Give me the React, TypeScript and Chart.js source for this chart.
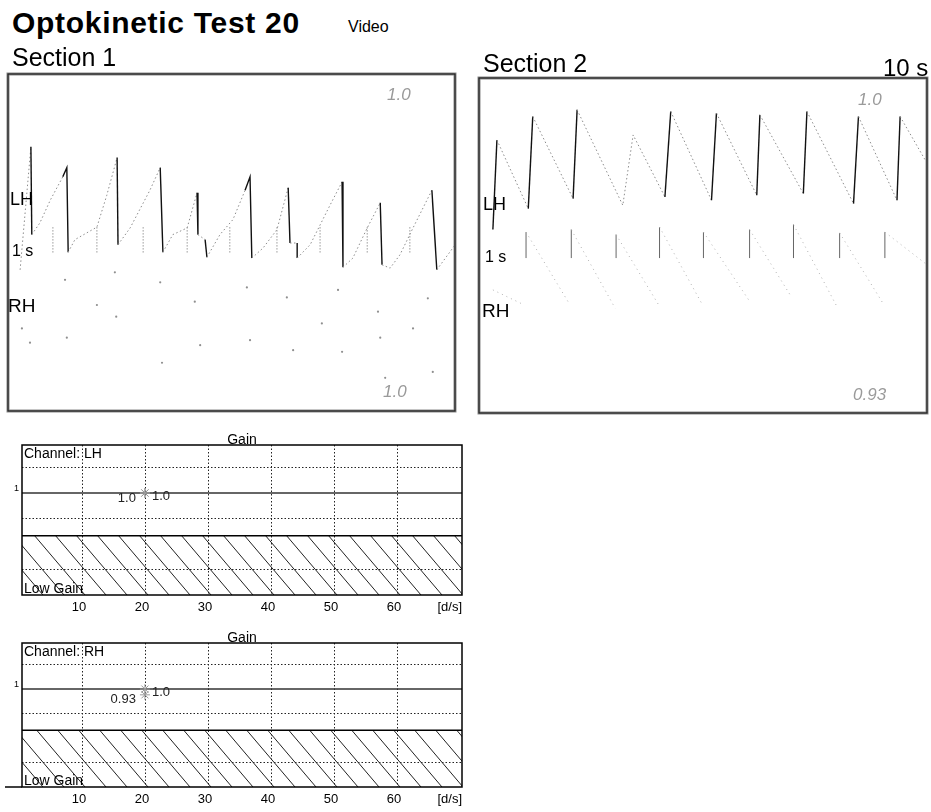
import React, { useEffect, useRef } from 'react';
import { Chart, registerables } from 'chart.js';

Chart.register(...registerables);

const FONT = '"Liberation Sans", Arial, Helvetica, sans-serif';

// ---------- Section 1 (time in s, eye position in deg) ----------
const S1_LH_T = [0.27, 0.51, 0.53, 0.71, 0.94, 1.22, 1.31, 1.34, 1.49, 1.98, 2.2, 2.43, 2.45, 2.72, 3.16, 3.39, 3.45, 3.67, 3.99, 4.21, 4.23, 4.39, 4.43, 4.72, 5.01, 5.28, 5.39, 5.43, 5.68, 5.99, 6.24, 6.28, 6.44, 6.44, 6.73, 7.17, 7.44, 7.46, 7.68, 8.0, 8.29, 8.33, 8.51, 8.73, 9.02, 9.44, 9.55, 9.96];
const S1_LH_V = [-3.5, 11.2, 0.7, 2.1, 4.8, 7.6, 8.7, -1.4, 0.1, 1.6, 5.4, 9.9, -0.5, 1.5, 6.0, 8.7, -1.4, 0.7, 1.5, 5.7, 0.7, 0.1, -2.0, 0.7, 2.5, 6.0, 7.6, -2.1, -0.9, 1.3, 6.3, -0.3, -0.3, -2.1, -0.5, 4.2, 7.0, -3.2, -2.1, 1.5, 4.5, -2.9, -3.3, -1.7, 1.5, 6.0, -3.5, -0.5];
const S1_STEP_T = [1.0, 1.98, 3.01, 3.99, 4.94, 5.99, 6.95, 8.0, 8.95];
const S1_STEP_TOP = 1.6;
const S1_STEP_BOTTOM = -1.5;
const S1_RH_T = [0.31, 0.49, 1.27, 1.31, 1.98, 2.38, 2.41, 3.39, 3.43, 4.16, 4.28, 5.32, 5.39, 6.21, 6.35, 6.99, 7.35, 7.44, 8.24, 8.29, 8.4, 9.02, 9.35, 9.46];
const S1_RH_V = [-10.5, -12.2, -4.7, -11.6, -7.7, -3.8, -9.1, -5.0, -14.6, -7.3, -12.5, -5.6, -11.9, -6.8, -13.1, -9.9, -5.9, -13.3, -8.5, -11.6, -16.4, -10.5, -6.9, -15.7];

// ---------- Section 2 ----------
const S2_LH_T = [0.31, 0.4, 1.1, 1.2, 2.1, 2.19, 3.21, 3.44, 4.15, 4.28, 5.19, 5.3, 6.2, 6.27, 7.24, 7.32, 8.36, 8.47, 9.33, 9.4, 9.96];
const S2_LH_V = [1.9, 12.6, 4.4, 15.4, 5.6, 16.2, 4.8, 13.2, 5.8, 16.0, 5.4, 15.8, 6.0, 15.6, 6.2, 16.0, 5.0, 15.4, 5.4, 15.4, 10.2];
// null = gap in the recorded trace
const S2_RH_T = [0.31, 1.01, 1.01, 1.05, 1.05, 2.01, 2.01, 2.06, 2.06, 3.04, 3.04, 3.06, 3.06, 4.0, 4.0, 4.03, 4.03, 4.99, 4.99, 5.01, 5.01, 6.02, 6.02, 6.04, 6.04, 6.98, 6.98, 7.02, 7.02, 8.01, 8.01, 8.05, 8.05, 9.04, 9.04, 9.06, 9.06, 10.0];
const S2_RH_V = [-5.3, -7.1, null, -1.5, 1.6, -6.9, null, -1.5, 1.9, -7.5, null, -1.5, 1.3, -7.0, null, -1.5, 2.2, -7.1, null, -1.5, 1.6, -6.5, null, -1.5, 1.9, -6.2, null, -1.5, 2.5, -7.5, null, -1.5, 1.5, -7.1, null, -1.5, 1.6, -2.3];

// ---------- Gain charts ----------
const VELOCITY_TICKS = [10, 20, 30, 40, 50, 60];
const GAIN_GRID = [1.3, 0.71, 0.11];
const REF_GAIN = 1.0;
const LOW_GAIN_LIMIT = 0.5;
const LH_GAIN_VEL = [20, 20];
const LH_GAIN = [1.0, 1.0];
const RH_GAIN_VEL = [20, 20];
const RH_GAIN = [0.93, 1.0];

const pts = (ts: number[], vs: (number | null)[]) => ts.map((t, i) => ({ x: t, y: vs[i] }));

const stepPts = (ts: number[], top: number, bottom: number) => {
  const out: { x: number; y: number | null }[] = [];
  ts.forEach((t) => {
    out.push({ x: t, y: top }, { x: t, y: bottom }, { x: t, y: null });
  });
  return out;
};

const isFast = (c: any) => Math.abs(c.p1.x - c.p0.x) < 6;

const borderPlugin = {
  id: 'panelBorder',
  afterDraw(chart: any) {
    const { ctx, chartArea: a } = chart;
    ctx.save();
    ctx.strokeStyle = '#8a8a8a';
    ctx.lineWidth = 3;
    ctx.strokeRect(a.left, a.top, a.right - a.left, a.bottom - a.top);
    ctx.strokeStyle = '#222';
    ctx.lineWidth = 1.2;
    ctx.strokeRect(a.left, a.top, a.right - a.left, a.bottom - a.top);
    ctx.restore();
  },
};

function panelConfig(opts: {
  xMin: number; xMax: number; yMin: number; yMax: number;
  padding: { left: number; right: number; top: number; bottom: number };
  datasets: any[];
}): any {
  return {
    type: 'scatter',
    data: { datasets: opts.datasets },
    options: {
      animation: false,
      responsive: false,
      maintainAspectRatio: false,
      layout: { padding: opts.padding },
      plugins: { legend: { display: false }, tooltip: { enabled: false } },
      elements: { line: { tension: 0 } },
      scales: {
        x: { type: 'linear', display: false, min: opts.xMin, max: opts.xMax },
        y: { type: 'linear', display: false, min: opts.yMin, max: opts.yMax },
      },
    },
    plugins: [borderPlugin],
  };
}

const lhDataset = (data: any[]) => ({
  label: 'LH',
  data,
  showLine: true,
  pointRadius: 0,
  borderWidth: 1,
  borderColor: '#333',
  segment: {
    borderColor: (c: any) => (isFast(c) ? '#111' : '#8c8c8c'),
    borderDash: (c: any) => (isFast(c) ? [] : [1.5, 2.5]),
    borderWidth: (c: any) => (isFast(c) ? 1.4 : 1),
  },
});

function gainConfig(channel: string, vel: number[], gain: number[], padding: any, extendAxis: boolean): any {
  const decor = {
    id: 'gainDecor',
    beforeDatasetsDraw(chart: any) {
      const { ctx, chartArea: a, scales } = chart;
      const x = scales.x;
      const y = scales.y;
      const yLow = y.getPixelForValue(LOW_GAIN_LIMIT);
      // hatched low-gain zone
      ctx.save();
      ctx.beginPath();
      ctx.rect(a.left, yLow, a.right - a.left, a.bottom - yLow);
      ctx.clip();
      ctx.strokeStyle = '#222';
      ctx.lineWidth = 1;
      const h = a.bottom - yLow;
      const run = h * 0.85;
      for (let sx = a.left - run; sx < a.right + 22; sx += 21) {
        ctx.beginPath();
        ctx.moveTo(sx, yLow);
        ctx.lineTo(sx + run, a.bottom);
        ctx.stroke();
      }
      ctx.restore();
      // dotted grid
      ctx.save();
      ctx.strokeStyle = '#222';
      ctx.lineWidth = 1;
      ctx.setLineDash([1.5, 2]);
      VELOCITY_TICKS.forEach((v) => {
        const px = Math.round(x.getPixelForValue(v)) + 0.5;
        ctx.beginPath();
        ctx.moveTo(px, a.top);
        ctx.lineTo(px, a.bottom);
        ctx.stroke();
      });
      GAIN_GRID.forEach((g) => {
        const py = Math.round(y.getPixelForValue(g)) + 0.5;
        ctx.beginPath();
        ctx.moveTo(a.left, py);
        ctx.lineTo(a.right, py);
        ctx.stroke();
      });
      ctx.setLineDash([]);
      // reference gain line
      const yRef = y.getPixelForValue(REF_GAIN);
      ctx.strokeStyle = '#333';
      ctx.lineWidth = 1.5;
      ctx.beginPath();
      ctx.moveTo(a.left, yRef);
      ctx.lineTo(a.right, yRef);
      ctx.stroke();
      // low gain limit
      ctx.strokeStyle = '#000';
      ctx.lineWidth = 1.5;
      ctx.beginPath();
      ctx.moveTo(a.left, yLow);
      ctx.lineTo(a.right, yLow);
      ctx.stroke();
      // frame
      ctx.lineWidth = 1.5;
      ctx.strokeRect(a.left, a.top, a.right - a.left, a.bottom - a.top);
      if (extendAxis) {
        ctx.beginPath();
        ctx.moveTo(5, a.bottom);
        ctx.lineTo(a.left, a.bottom);
        ctx.stroke();
      }
      ctx.restore();
    },
    afterDraw(chart: any) {
      const { ctx, chartArea: a, scales } = chart;
      const x = scales.x;
      const y = scales.y;
      ctx.save();
      ctx.fillStyle = '#000';
      ctx.textBaseline = 'alphabetic';
      ctx.font = `14px ${FONT}`;
      ctx.textAlign = 'center';
      ctx.fillText('Gain', (a.left + a.right) / 2, a.top - 1);
      ctx.textAlign = 'left';
      ctx.fillText(`Channel: ${channel}`, a.left + 2, a.top + 13);
      ctx.fillText('Low Gain', a.left + 2, a.bottom - 2);
      ctx.font = `13px ${FONT}`;
      ctx.textAlign = 'center';
      VELOCITY_TICKS.forEach((v) => {
        ctx.fillText(String(v), x.getPixelForValue(v) - 3, a.bottom + 16);
      });
      ctx.textAlign = 'right';
      ctx.fillText('[d/s]', a.right, a.bottom + 16);
      ctx.font = `9px ${FONT}`;
      ctx.fillText('1', a.left - 3, y.getPixelForValue(REF_GAIN) - 2);
      // value labels next to points
      const meta = chart.getDatasetMeta(0);
      ctx.font = `13px ${FONT}`;
      ctx.fillStyle = '#222';
      ctx.textBaseline = 'middle';
      meta.data.forEach((el: any, i: number) => {
        const v = gain[i];
        const txt = Number.isInteger(Math.round(v * 100) / 10) ? v.toFixed(1) : v.toFixed(2);
        if (i === 0) {
          ctx.textAlign = 'right';
          ctx.fillText(txt, el.x - 9, el.y + 5);
        } else {
          ctx.textAlign = 'left';
          ctx.fillText(txt, el.x + 7, el.y + 3);
        }
      });
      ctx.restore();
    },
  };
  return {
    type: 'scatter',
    data: {
      datasets: [
        {
          label: `Gain ${channel}`,
          data: pts(vel, gain),
          pointStyle: 'star',
          pointRadius: 5,
          borderColor: '#9a9a9a',
          backgroundColor: '#bbbbbb',
          borderWidth: 1,
        },
      ],
    },
    options: {
      animation: false,
      responsive: false,
      maintainAspectRatio: false,
      layout: { padding },
      plugins: { legend: { display: false }, tooltip: { enabled: false } },
      scales: {
        x: { type: 'linear', display: false, min: 0.5, max: 70.3 },
        y: { type: 'linear', display: false, min: -0.19, max: 1.56 },
      },
    },
    plugins: [decor],
  };
}

function ChartBox(props: { left: number; top: number; width: number; height: number; make: () => any }) {
  const ref = useRef<HTMLCanvasElement>(null);
  useEffect(() => {
    const chart = new Chart(ref.current as HTMLCanvasElement, props.make());
    return () => chart.destroy();
  }, []);
  return (
    <canvas
      ref={ref}
      width={props.width}
      height={props.height}
      style={{ position: 'absolute', left: props.left, top: props.top, width: props.width, height: props.height }}
    />
  );
}

function Txt(props: { x: number; base: number; size: number; bold?: boolean; italic?: boolean; color?: string; ls?: number; children: React.ReactNode }) {
  return (
    <div
      style={{
        position: 'absolute',
        left: props.x,
        top: props.base - 0.8465 * props.size,
        fontSize: props.size,
        lineHeight: 1,
        fontFamily: FONT,
        fontWeight: props.bold ? 700 : 400,
        fontStyle: props.italic ? 'italic' : 'normal',
        color: props.color || '#000',
        letterSpacing: props.ls || 0,
        whiteSpace: 'nowrap',
      }}
    >
      {props.children}
    </div>
  );
}

export default function App() {
  const panel1 = () =>
    panelConfig({
      xMin: 0, xMax: 9.955, yMin: -20.36, yMax: 19.88,
      padding: { left: 8, right: 15, top: 14, bottom: 9 },
      datasets: [
        {
          label: 'RH',
          data: pts(S1_RH_T, S1_RH_V),
          showLine: false,
          pointRadius: 1.1,
          pointBorderWidth: 0,
          backgroundColor: '#8f8f8f',
        },
        {
          label: 'LH steps',
          data: stepPts(S1_STEP_T, S1_STEP_TOP, S1_STEP_BOTTOM),
          showLine: true,
          spanGaps: false,
          pointRadius: 0,
          borderWidth: 1,
          borderColor: '#9a9a9a',
          borderDash: [1.5, 1.5],
        },
        lhDataset(pts(S1_LH_T, S1_LH_V)),
      ],
    });
  const panel2 = () =>
    panelConfig({
      xMin: 0, xMax: 10, yMin: -20, yMax: 20,
      padding: { left: 9, right: 4, top: 18, bottom: 7 },
      datasets: [
        {
          label: 'RH',
          data: pts(S2_RH_T, S2_RH_V),
          showLine: true,
          spanGaps: false,
          pointRadius: 0,
          borderWidth: 1,
          borderColor: '#9a9a9a',
          segment: {
            borderColor: (c: any) => (isFast(c) ? '#666' : '#b0b0b0'),
            borderDash: (c: any) => (isFast(c) ? [] : [1, 4]),
          },
        },
        lhDataset(pts(S2_LH_T, S2_LH_V)),
      ],
    });
  const gain1 = () => gainConfig('LH', LH_GAIN_VEL, LH_GAIN, { left: 22, right: 18, top: 20, bottom: 25 }, false);
  const gain2 = () => gainConfig('RH', RH_GAIN_VEL, RH_GAIN, { left: 22, right: 18, top: 23, bottom: 25 }, true);

  return (
    <div style={{ position: 'absolute', left: 0, top: 0, width: 931, height: 812, background: '#fff', overflow: 'hidden' }}>
      <ChartBox left={0} top={60} width={470} height={360} make={panel1} />
      <ChartBox left={470} top={60} width={461} height={360} make={panel2} />
      <ChartBox left={0} top={425} width={480} height={195} make={gain1} />
      <ChartBox left={0} top={620} width={480} height={192} make={gain2} />

      <Txt x={12} base={33} size={30} bold ls={0.7}>Optokinetic Test 20</Txt>
      <Txt x={348} base={33} size={16}>Video</Txt>
      <Txt x={12} base={66} size={25}>Section 1</Txt>
      <Txt x={483} base={72} size={25}>Section 2</Txt>
      <Txt x={883} base={76} size={24}>10 s</Txt>

      <Txt x={10} base={205} size={18}>LH</Txt>
      <Txt x={12} base={257} size={16}>1 s</Txt>
      <Txt x={8} base={312} size={19}>RH</Txt>
      <Txt x={387} base={100} size={17} italic color="#9a9a9a">1.0</Txt>
      <Txt x={383} base={397} size={17} italic color="#9a9a9a">1.0</Txt>

      <Txt x={483} base={210} size={18}>LH</Txt>
      <Txt x={485} base={263} size={16}>1 s</Txt>
      <Txt x={482} base={317} size={19}>RH</Txt>
      <Txt x={858} base={105} size={17} italic color="#9a9a9a">1.0</Txt>
      <Txt x={853} base={400} size={17} italic color="#9a9a9a">0.93</Txt>
    </div>
  );
}
